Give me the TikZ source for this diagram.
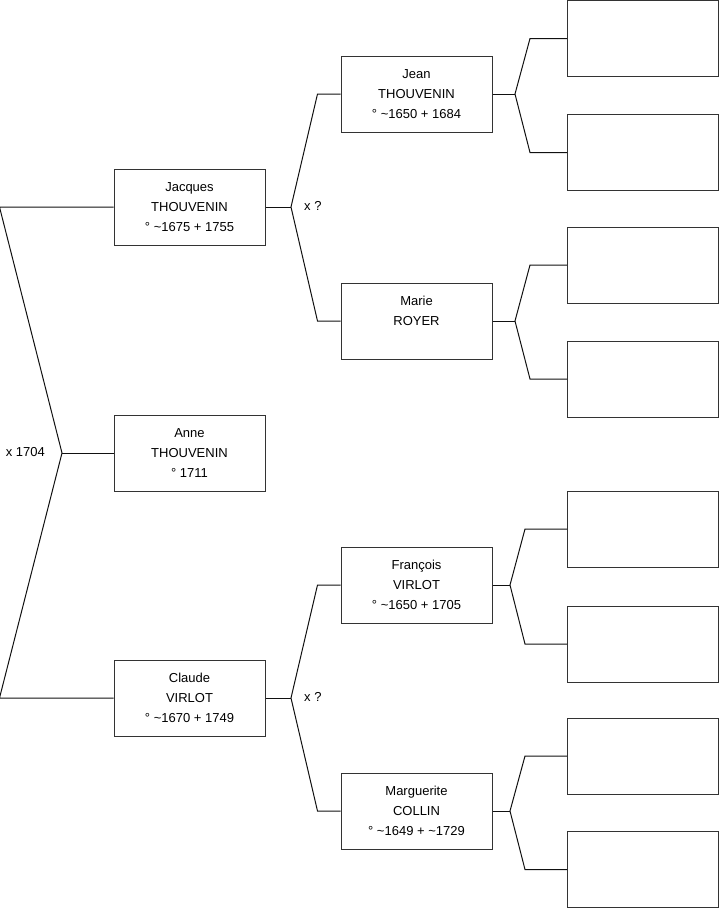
\documentclass[tikz,border=0pt]{standalone}
\usepackage{fontspec}
\setmainfont{Liberation Sans}
\usepackage{tikz}
\usetikzlibrary{positioning,calc}
\usepackage{xcolor}
\definecolor{boxline}{HTML}{333333}
\definecolor{linkline}{HTML}{111111}

\begin{document}
\begin{tikzpicture}[
  x=1pt, y=-1pt,
  person/.style={
    draw=boxline,
    fill=white,
    line width=1pt,
    minimum width=151pt,
    minimum height=76pt,
    inner sep=0pt,
    align=center,
    font=\fontsize{13pt}{20pt}\selectfont
  },
  emptyperson/.style={
    person
  },
  link/.style={
    line width=1pt,
    draw=linkline
  },
  union/.style={
    font=\fontsize{13pt}{15pt}\selectfont,
    inner sep=0pt
  }
]
  \useasboundingbox (0,0) rectangle (719,908);

  % --- Generation 1 ---
  \node[person] (anne) at (189.5,453) {Anne\\THOUVENIN\\° 1711};
  \node[person] (jacques) at (189.5,207) {Jacques\\THOUVENIN\\° \textasciitilde1675 + 1755};
  \node[person] (claude) at (189.5,698) {Claude\\VIRLOT\\° \textasciitilde1670 + 1749};

  % --- Generation 2 ---
  \node[person] (jean) at (416.5,94) {Jean\\THOUVENIN\\° \textasciitilde1650 + 1684};
  \node[person] (marie) at (416.5,321) {Marie\\ROYER\\\mbox{}};
  \node[person] (francois) at (416.5,585) {François\\VIRLOT\\° \textasciitilde1650 + 1705};
  \node[person] (marguerite) at (416.5,811) {Marguerite\\COLLIN\\° \textasciitilde1649 + \textasciitilde1729};

  % --- Generation 3 (unknown) ---
  \node[emptyperson] (p1) at (643,38.5) {};
  \node[emptyperson, below=37pt of p1] (p2) {};
  \node[emptyperson] (p3) at (643,265) {};
  \node[emptyperson, below=37pt of p3] (p4) {};
  \node[emptyperson] (p5) at (643,529) {};
  \node[emptyperson, below=38pt of p5] (p6) {};
  \node[emptyperson] (p7) at (643,756) {};
  \node[emptyperson, below=36.5pt of p7] (p8) {};

  % Fork points
  \coordinate (fanne) at (62,453);
  \coordinate (fjacques) at (291,207);
  \coordinate (fclaude) at (291,698);
  \coordinate (fjean) at (515,94);
  \coordinate (fmarie) at (515,321);
  \coordinate (ffrancois) at (510,585);
  \coordinate (fmarguerite) at (510,811);

  % Connecting lines
  \draw[link] (anne.west) -- (fanne);
  \draw[link] (jacques.west) -- ++(-114,0) -- (fanne) -- ($(claude.west)+(-114,0)$) -- (claude.west);

  \draw[link] (jacques.east) -- (fjacques);
  \draw[link] (jean.west) -- ++(-23,0) -- (fjacques) -- ($(marie.west)+(-23,0)$) -- (marie.west);
  \draw[link] (claude.east) -- (fclaude);
  \draw[link] (francois.west) -- ++(-23,0) -- (fclaude) -- ($(marguerite.west)+(-23,0)$) -- (marguerite.west);

  \draw[link] (jean.east) -- (fjean);
  \draw[link] (p1.west) -- ++(-37,0) -- (fjean) -- ($(p2.west)+(-37,0)$) -- (p2.west);
  \draw[link] (marie.east) -- (fmarie);
  \draw[link] (p3.west) -- ++(-37,0) -- (fmarie) -- ($(p4.west)+(-37,0)$) -- (p4.west);
  \draw[link] (francois.east) -- (ffrancois);
  \draw[link] (p5.west) -- ++(-42,0) -- (ffrancois) -- ($(p6.west)+(-42,0)$) -- (p6.west);
  \draw[link] (marguerite.east) -- (fmarguerite);
  \draw[link] (p7.west) -- ++(-42,0) -- (fmarguerite) -- ($(p8.west)+(-42,0)$) -- (p8.west);

  % Marriage labels
  \node[union, anchor=east] (manne) at ($(fanne)+(-17,-1)$) {x 1704};
  \node[union, anchor=west] (mjacques) at ($(fjacques)+(13,-1)$) {x ?};
  \node[union, anchor=west] (mclaude) at ($(fclaude)+(13,-1)$) {x ?};

\end{tikzpicture}
\end{document}
